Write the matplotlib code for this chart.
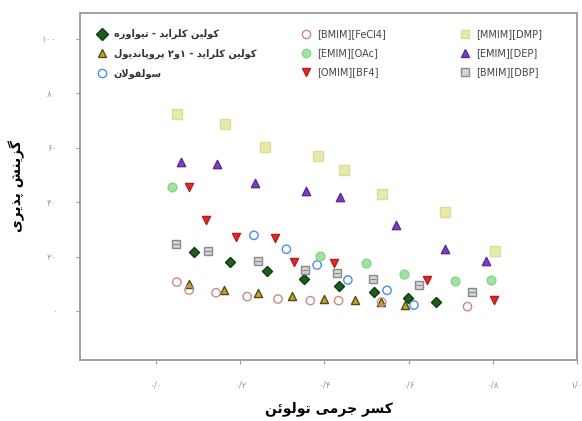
import matplotlib
matplotlib.use("Agg")
import matplotlib.pyplot as plt
from matplotlib.lines import Line2D

# toluene mass fraction (x) and selectivity (y) per solvent
chtu_x = [0.090, 0.177, 0.264, 0.351, 0.435, 0.517, 0.598, 0.665]
chtu_y = [21.6, 17.9, 14.7, 11.8, 9.2, 7.1, 4.7, 3.2]

chpd_x = [0.079, 0.163, 0.242, 0.323, 0.399, 0.472, 0.534, 0.591]
chpd_y = [9.8, 7.7, 6.5, 5.6, 4.4, 4.0, 3.2, 2.2]

sulf_x = [0.233, 0.310, 0.383, 0.456, 0.549, 0.613]
sulf_y = [27.8, 22.7, 16.9, 11.4, 7.6, 2.2]

fecl4_x = [0.050, 0.079, 0.143, 0.217, 0.290, 0.367, 0.434, 0.536, 0.740]
fecl4_y = [10.6, 7.7, 6.7, 5.3, 4.4, 3.8, 3.8, 3.3, 1.6]

oac_x = [0.038, 0.389, 0.498, 0.590, 0.710, 0.796]
oac_y = [45.7, 20.3, 17.5, 13.5, 11.1, 11.4]

bf4_x = [0.079, 0.119, 0.190, 0.282, 0.329, 0.422, 0.643, 0.802]
bf4_y = [45.7, 33.5, 27.3, 26.7, 18.1, 17.5, 11.4, 4.0]

dmp_x = [0.050, 0.164, 0.260, 0.385, 0.446, 0.536, 0.686, 0.805]
dmp_y = [72.4, 68.8, 60.2, 57.1, 51.8, 43.0, 36.3, 22.1]

dep_x = [0.060, 0.145, 0.236, 0.356, 0.437, 0.570, 0.686, 0.784]
dep_y = [54.9, 54.0, 46.9, 44.2, 41.8, 31.6, 22.7, 18.4]

dbp_x = [0.048, 0.125, 0.242, 0.355, 0.429, 0.516, 0.625, 0.750]
dbp_y = [24.5, 22.2, 18.5, 15.1, 13.9, 11.7, 9.6, 6.9]

x_ticks = [0.0, 0.2, 0.4, 0.6, 0.8, 1.0]
x_tick_labels = ["۰/۰", "۰/۲", "۰/۴", "۰/۶", "۰/۸", "۱/۰"]
y_ticks = [0, 20, 40, 60, 80, 100]
y_tick_labels = ["۰", "۲۰", "۴۰", "۶۰", "۸۰", "۱۰۰"]

x_label = "کسر جرمی تولوئن"
y_label = "گزینش پذیری"
fa_names = ["کولین کلراید - تیواوره", "کولین کلراید - ۱و۲ پروپاندیول", "سولفولان"]
il_names = ["[BMIM][FeCl4]", "[EMIM][OAc]", "[OMIM][BF4]",
            "[MMIM][DMP]", "[EMIM][DEP]", "[BMIM][DBP]"]

# arabic presentation forms: isolated, final, initial, medial
FORMS = {
    "ا": ("\uFE8D", "\uFE8E", None, None),
    "د": ("\uFEA9", "\uFEAA", None, None),
    "ذ": ("\uFEAB", "\uFEAC", None, None),
    "ر": ("\uFEAD", "\uFEAE", None, None),
    "ز": ("\uFEAF", "\uFEB0", None, None),
    "و": ("\uFEED", "\uFEEE", None, None),
    "پ": ("\uFB56", "\uFB57", "\uFB58", "\uFB59"),
    "ت": ("\uFE95", "\uFE96", "\uFE97", "\uFE98"),
    "ج": ("\uFE9D", "\uFE9E", "\uFE9F", "\uFEA0"),
    "س": ("\uFEB1", "\uFEB2", "\uFEB3", "\uFEB4"),
    "ش": ("\uFEB5", "\uFEB6", "\uFEB7", "\uFEB8"),
    "ف": ("\uFED1", "\uFED2", "\uFED3", "\uFED4"),
    "ک": ("\uFB8E", "\uFB8F", "\uFB90", "\uFB91"),
    "گ": ("\uFB92", "\uFB93", "\uFB94", "\uFB95"),
    "ل": ("\uFEDD", "\uFEDE", "\uFEDF", "\uFEE0"),
    "م": ("\uFEE1", "\uFEE2", "\uFEE3", "\uFEE4"),
    "ن": ("\uFEE5", "\uFEE6", "\uFEE7", "\uFEE8"),
    "ه": ("\uFEE9", "\uFEEA", "\uFEEB", "\uFEEC"),
    "ی": ("\uFBFC", "\uFBFD", "\uFBFE", "\uFBFF"),
    "ئ": ("\uFE89", "\uFE8A", "\uFE8B", "\uFE8C"),
}


def dual(c):
    return c in FORMS and FORMS[c][2] is not None


def shape(text):
    # join letters and flip to visual order (matplotlib has no bidi)
    out = []
    i = 0
    n = len(text)
    while i < n:
        c = text[i]
        if c not in FORMS:
            out.append(c)
            i += 1
            continue
        p = i > 0 and dual(text[i - 1])
        if c == "ل" and i + 1 < n and text[i + 1] == "ا":
            out.append("\uFEFC" if p else "\uFEFB")
            i += 2
            continue
        q = dual(c) and i + 1 < n and text[i + 1] in FORMS
        iso, fin, ini, med = FORMS[c]
        if p and q:
            out.append(med)
        elif p:
            out.append(fin)
        elif q:
            out.append(ini)
        else:
            out.append(iso)
        i += 1
    return "".join(reversed(out))


plt.rcParams["font.family"] = ["DejaVu Sans"]

fig = plt.figure(figsize=(5.82, 4.21), dpi=100)
ax = fig.add_axes([80 / 582, 1 - 360 / 421, 497 / 582, 347 / 421])

series = [
    (chtu_x, chtu_y, dict(marker="D", s=26, c="#1d5e1d", edgecolors="#0f3a0f")),
    (chpd_x, chpd_y, dict(marker="^", s=34, c="#b9a53c", edgecolors="#5b4b10")),
    (sulf_x, sulf_y, dict(marker="o", s=36, facecolors="none", edgecolors="#4a8fe0", linewidths=1.0)),
    (fecl4_x, fecl4_y, dict(marker="o", s=36, facecolors="none", edgecolors="#c98a8a", linewidths=1.0)),
    (oac_x, oac_y, dict(marker="o", s=40, c="#9ee39e", edgecolors="#8fd28f")),
    (bf4_x, bf4_y, dict(marker="v", s=34, c="#e02a2a", edgecolors="#b81e1e")),
    (dmp_x, dmp_y, dict(marker="s", s=44, c="#e9e9ab", edgecolors="#dcdc96")),
    (dep_x, dep_y, dict(marker="^", s=36, c="#7a3fc4", edgecolors="#5a2a9a")),
    (dbp_x, dbp_y, dict(marker="s", s=36, c="#d4d4d4", edgecolors="#8a8a8a")),
]
for xs, ys, kw in series:
    ax.scatter(xs, ys, zorder=3, **kw)
# lines inside the gray squares
ax.scatter(dbp_x, dbp_y, marker="_", s=20, c="#8a8a8a", linewidths=0.8, zorder=4)

ax.set_xlim(-0.18, 1.0)
ax.set_ylim(-18, 109.5)
ax.set_xticks(x_ticks)
ax.set_xticklabels(x_tick_labels)
ax.set_yticks(y_ticks)
ax.set_yticklabels(y_tick_labels)
ax.tick_params(axis="both", colors="#9a9a9a", labelsize=6.5, length=3, width=0.8)
ax.tick_params(axis="x", pad=12)
ax.tick_params(axis="y", pad=14)
for sp in ax.spines.values():
    sp.set_color("#a0a0a0")
    sp.set_linewidth(1.4)

ax.set_xlabel(shape(x_label), fontsize=10, fontweight="bold", labelpad=8)
ax.set_ylabel(shape(y_label), fontsize=10, fontweight="bold", labelpad=12)

handles = []
for xs, ys, kw in series:
    m = Line2D([], [], linestyle="none", marker=kw["marker"], markersize=6,
               markerfacecolor=kw.get("c", "none"),
               markeredgecolor=kw["edgecolors"], markeredgewidth=1.0)
    handles.append(m)

leg_kw = dict(loc="upper left", frameon=False, fontsize=7, labelspacing=0.95,
              handletextpad=0.6, handlelength=1.2, borderaxespad=0)
leg1 = ax.legend(handles[:3], [shape(t) for t in fa_names],
                 bbox_to_anchor=(0.025, 0.965), **leg_kw)
for t in leg1.get_texts():
    t.set_fontweight("bold")
    t.set_color("#333333")
ax.add_artist(leg1)
leg2 = ax.legend(handles[3:6], il_names, bbox_to_anchor=(0.435, 0.965), **leg_kw)
ax.add_artist(leg2)
leg3 = ax.legend(handles[6:], il_names[3:], bbox_to_anchor=(0.755, 0.965), **leg_kw)
for lg in (leg2, leg3):
    for t in lg.get_texts():
        t.set_color("#444444")

fig.savefig("out.png", dpi=100)
